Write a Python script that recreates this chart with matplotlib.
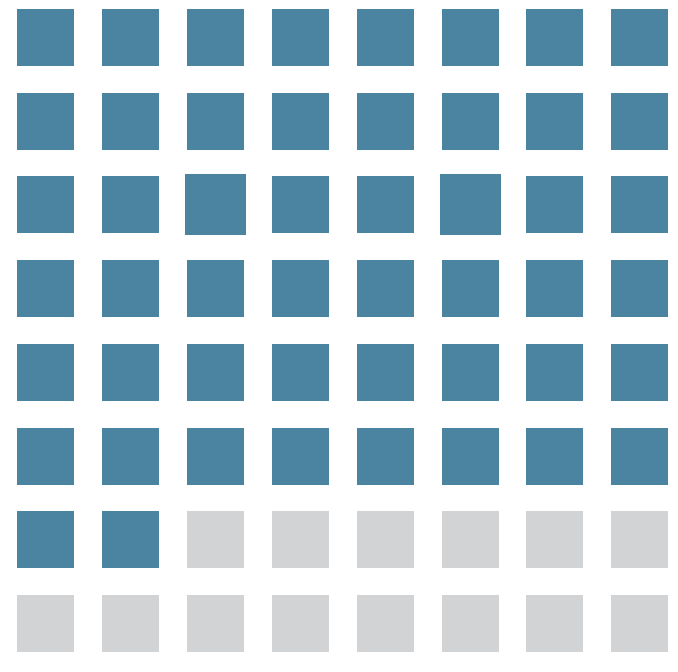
import matplotlib
matplotlib.use("Agg")
import matplotlib.pyplot as plt
from matplotlib.patches import Rectangle

# Data
categories = ["Filled", "Remaining"]
counts = [50, 14]
colors = ["#4b84a1", "#d2d3d5"]
highlighted = [18, 21]  # cells drawn emphasized
n_cols = 8
n_rows = 8

fig = plt.figure(figsize=(6.78, 6.72), dpi=100)
ax = fig.add_axes([0, 0, 1, 1])
ax.set_xlim(-17 / 84.9, (678 - 17) / 84.9)
ax.set_ylim((672 - 9) / 83.7, -9 / 83.7)
ax.axis("off")

sq_w = 57 / 84.9
sq_h = 57 / 83.7

idx = 0
for cat, cnt, col in zip(categories, counts, colors):
    for _ in range(cnt):
        r, c = divmod(idx, n_cols)
        lw = 2.9 if idx in highlighted else 0
        ax.add_patch(Rectangle((c, r), sq_w, sq_h, facecolor=col,
                               edgecolor=col, linewidth=lw))
        idx += 1

fig.savefig("out.png", dpi=100)
